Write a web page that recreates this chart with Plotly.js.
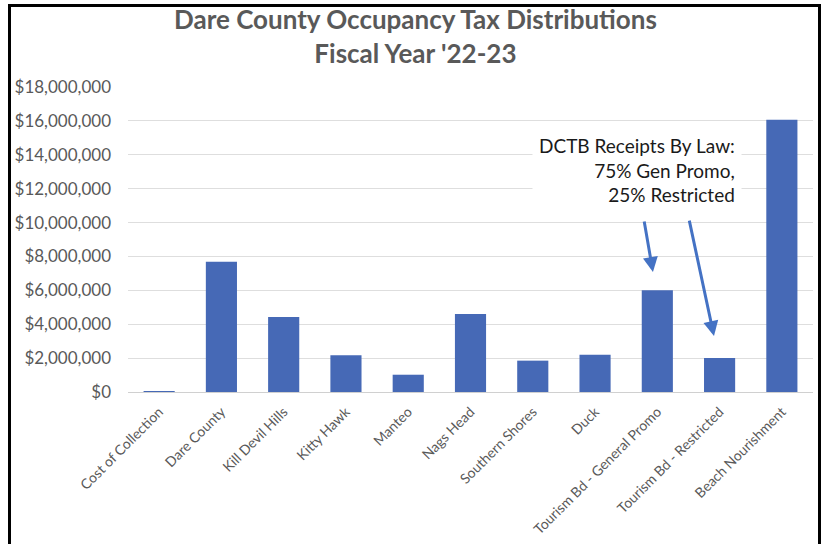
<!DOCTYPE html>
<html>
<head>
<meta charset="utf-8">
<script src="https://cdn.plot.ly/plotly-3.0.1.min.js"></script>
<style>
html,body{margin:0;padding:0;background:#fff;}
#chart{width:825px;height:544px;}
#frame{position:absolute;left:8px;top:4px;width:807px;height:600px;border:3px solid #000;pointer-events:none;box-sizing:content-box;}
</style>
</head>
<body>
<div id="chart"></div>
<div id="frame"></div>
<script>
const categories = ["Cost of Collection","Dare County","Kill Devil Hills","Kitty Hawk","Manteo","Nags Head","Southern Shores","Duck","Tourism Bd - General Promo","Tourism Bd - Restricted","Beach Nourishment"];
const values = [60000, 7680000, 4420000, 2170000, 1020000, 4600000, 1850000, 2200000, 6000000, 2000000, 16060000];
const yTicks = [0,2000000,4000000,6000000,8000000,10000000,12000000,14000000,16000000,18000000];
const titleText = "Dare County Occupancy Tax Distributions<br>Fiscal Year '22-23";
const noteText = "DCTB Receipts By Law:<br>75% Gen Promo,<br>25% Restricted";

const FONT = "Lato, 'Open Sans', sans-serif";

const data = [{
  type: 'bar',
  x: categories,
  y: values,
  marker: {color: '#4669b6', line: {width: 0}},
  hoverinfo: 'x+y'
}];

const layout = {
  width: 825, height: 544,
  margin: {l: 128, r: 12, t: 87, b: 152},
  paper_bgcolor: '#fff', plot_bgcolor: '#fff',
  showlegend: false,
  bargap: 0.5,
  xaxis: {
    type: 'category',
    tickangle: -45,
    tickfont: {family: FONT, size: 14, color: '#595959'},
    showgrid: false, zeroline: false, showline: false, ticks: '',
    ticklabelstandoff: 8
  },
  yaxis: {
    range: [0, 18000000],
    tickvals: yTicks,
    tickformat: '$,.0f',
    tickfont: {family: FONT, size: 17, color: '#595959'},
    showgrid: true, gridcolor: '#dedede', gridwidth: 1,
    zeroline: true, zerolinecolor: '#d0d0d0', zerolinewidth: 1,
    showline: false, ticks: '',
    ticklabelstandoff: 16
  },
  annotations: [
    {
      xref: 'paper', yref: 'paper', x: 0.42, y: 1.167, xanchor: 'center', yanchor: 'middle',
      text: titleText, showarrow: false,
      font: {family: FONT, size: 26, color: '#595959', weight: 'bold'}
    },
    {
      xref: 'paper', yref: 'paper', x: 0.896, y: 0.87, xanchor: 'right', yanchor: 'top',
      text: noteText,
      align: 'right', showarrow: false, bgcolor: '#fff', borderpad: 6,
      font: {family: FONT, size: 19, color: '#1a1a1a'}
    },
    {
      xref: 'x', yref: 'y', x: 7.93, y: 7080000, ax: -9, ay: -52, text: '',
      showarrow: true, arrowhead: 2, arrowsize: 1, arrowwidth: 3, arrowcolor: '#4472c4'
    },
    {
      xref: 'x', yref: 'y', x: 8.91, y: 3300000, ax: -25, ay: -117, text: '',
      showarrow: true, arrowhead: 2, arrowsize: 1, arrowwidth: 3, arrowcolor: '#4472c4'
    }
  ]
};

Plotly.newPlot('chart', data, layout, {displayModeBar: false, staticPlot: true});
</script>
</body>
</html>
